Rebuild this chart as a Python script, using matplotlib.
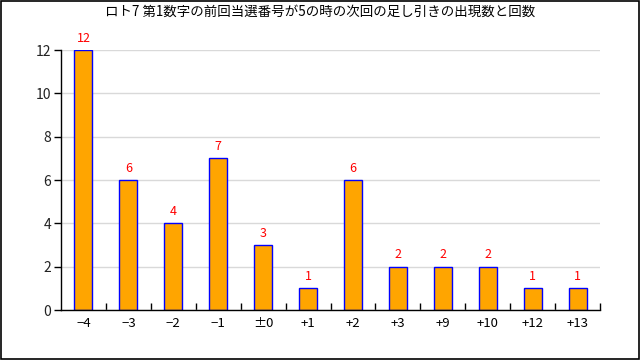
import matplotlib
matplotlib.use("Agg")
import matplotlib.pyplot as plt
from matplotlib.patches import Rectangle
import numpy as np

plt.rcParams["font.family"] = ["Noto Sans CJK JP", "DejaVu Sans"]

title = "ロト7 第1数字の前回当選番号が5の時の次回の足し引きの出現数と回数"
categories = ["\u22124", "\u22123", "\u22122", "\u22121", "\u00b10", "+1",
              "+2", "+3", "+9", "+10", "+12", "+13"]
counts = [12, 6, 4, 7, 3, 1, 6, 2, 2, 2, 1, 1]

fig = plt.figure(figsize=(6.4, 3.6), dpi=100)
ax = fig.add_axes([61 / 640, 50 / 360, 539 / 640, 260 / 360])

x = np.arange(len(categories))
ax.bar(x, counts, width=0.4, color="#ffa500", edgecolor="#0000ff",
       linewidth=1.0, zorder=3)
for xi, c in zip(x, counts):
    ax.text(xi, c + 0.25, str(c), ha="center", va="bottom", color="#ff0000",
            fontsize=9, zorder=4)

ax.set_xlim(-0.5, len(categories) - 0.5)
ax.set_ylim(0, 12)
ax.set_yticks(range(0, 13, 2))
ax.set_xticks(x)
ax.set_xticklabels(categories)
ax.set_xticks(np.arange(0.5, len(categories), 1.0), minor=True)
ax.tick_params(axis="x", which="major", length=0, pad=5, labelsize=9.5)
ax.tick_params(axis="x", which="minor", direction="in", length=5, width=1)
ax.tick_params(axis="y", direction="out", length=5, width=1, labelsize=10,
               labelcolor="#222222", pad=2)
ax.yaxis.grid(True, color="#d9d9d9", linewidth=1, zorder=0)
ax.set_axisbelow(True)
for s in ["top", "right"]:
    ax.spines[s].set_visible(False)
for s in ["left", "bottom"]:
    ax.spines[s].set_linewidth(1)
    ax.spines[s].set_zorder(5)

fig.text(0.5, 1 - 12 / 360, title, ha="center", va="center", fontsize=9.7)
fig.patches.append(Rectangle((0.001, 0.002), 0.997, 0.996, transform=fig.transFigure,
                             fill=False, edgecolor="black", linewidth=1.2))

fig.savefig("out.png", dpi=100)
